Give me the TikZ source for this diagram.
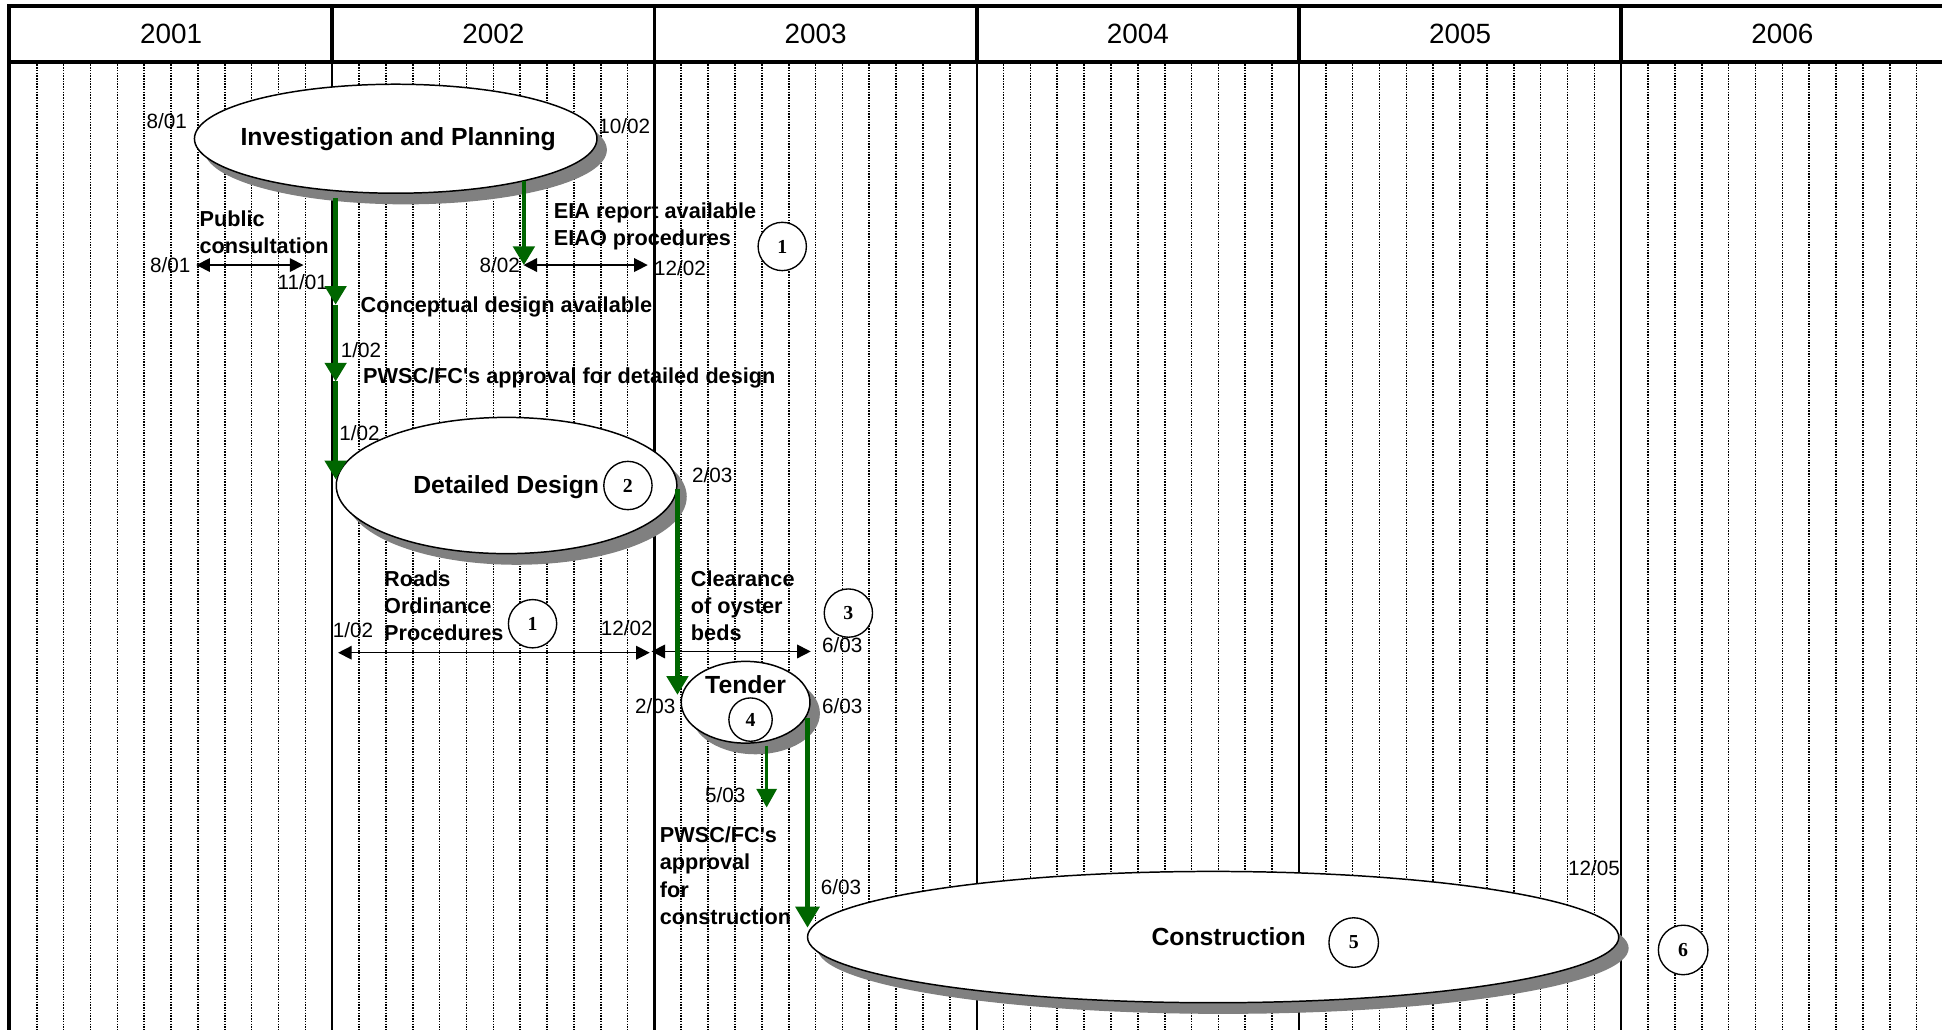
\documentclass[tikz,border=0pt]{standalone}
\usepackage{fontspec}
\setmainfont{Liberation Sans}
\newfontfamily\numfont{Liberation Serif}
\usetikzlibrary{arrows.meta,shapes.geometric,shadows}
\definecolor{grn}{RGB}{0,102,0}
\definecolor{shd}{RGB}{128,128,128}
\begin{document}
\begin{tikzpicture}[x=1pt,y=-1pt,
  yr/.style={font=\fontsize{22.5}{26}\selectfont, inner sep=0},
  dt/.style={font=\fontsize{16.7}{20}\selectfont, inner sep=0},
  lbl/.style={font=\fontsize{17.5}{22}\selectfont\bfseries, inner sep=0, align=left},
  big/.style={font=\fontsize{20}{24}\selectfont\bfseries, inner sep=0},
  num/.style={circle, draw, fill=white, line width=1.1pt, minimum size=39pt, inner sep=0, font=\numfont\fontsize{16}{18}\selectfont\bfseries},
  ell/.style={ellipse, draw, fill=white, line width=1.2pt, inner sep=0, drop shadow={shadow xshift=8pt, shadow yshift=-9pt, fill=shd, opacity=1}},
  garrow/.style={draw=grn, line width=3.5pt, -{Triangle[length=15pt,width=17pt]}},
  darrow/.style={draw=black, line width=1.2pt, {Triangle[length=11pt,width=11pt]}-{Triangle[length=11pt,width=11pt]}},
  dotl/.style={line width=1.3pt, dash pattern=on 1.2pt off 1pt},
]
\useasboundingbox (0,0) rectangle (1568,831);
% month grid
\foreach \k in {0,...,5}{
  \foreach \m in {1,...,11}{
    \draw[dotl] ({8+260.2*\k+21.683*\m},52) -- ++(0,785);
  }
}
% year separators
\foreach \k in {1,...,5}{
  \draw[line width=3pt] ({8+260.2*\k},4.8) -- ++(0,45.2);
  \draw[line width=1.8pt] ({8+260.2*\k},50) -- ++(0,785);
}
% frame
\draw[line width=3.2pt] (1575,4.8) -- (7.4,4.8) -- (7.4,840);
\draw[line width=3.2pt] (7.4,50) -- (1575,50);
% year labels
\foreach \y [count=\i from 0] in {2001,2002,2003,2004,2005,2006}{
  \node[yr] (y\y) at ({8+260.2*(\i+0.5)},27) {\y};
}
% phases
\node[ell, minimum width=325pt, minimum height=88pt] (inv) at (319.5,112) {};
\node[big] (invt) at (321.5,112.5) {Investigation and Planning};
\node[ell, minimum width=275pt, minimum height=110pt] (dd) at (409,392) {};
\node[big] (ddt) at (408.7,393) {Detailed Design};
\node[ell, minimum width=104pt, minimum height=66pt] (td) at (602,567) {};
\node[big] (tdt) at (602,553) {Tender};
\node[ell, minimum width=655pt, minimum height=106pt] (con) at (979.5,756.6) {};
\node[big] (cont) at (992,756) {Construction};
% numbered circles
\node[num] (n1a) at (631.6,199) {1};
\node[num] (n2) at (507,392) {2};
\node[num] (n1b) at (430,503.6) {1};
\node[num] (n3) at (685,495) {3};
\node[num, minimum size=35pt] (n4) at (606,581) {4};
\node[num, minimum size=40pt] (n5) at (1093,761) {5};
\node[num, minimum size=40pt] (n6) at (1359,767) {6};
% dates
\node[dt, anchor=east] (d801a) at (151,98) {8/01};
\node[dt, anchor=west] (d1002) at (483,102) {10/02};
\node[dt, anchor=east] (d801b) at (154,214) {8/01};
\node[dt, anchor=east] (d1101) at (265,228) {11/01};
\node[dt, anchor=east] (d802) at (420,214) {8/02};
\node[dt, anchor=west] (d1202a) at (528,216.5) {12/02};
\node[dt] (d102a) at (291.5,282.5) {1/02};
\node[dt] (d102b) at (290.3,349.8) {1/02};
\node[dt] (d203a) at (575,384) {2/03};
\node[dt] (d102c) at (285,508.5) {1/02};
\node[dt] (d1202b) at (506,507) {12/02};
\node[dt] (d603a) at (680,521) {6/03};
\node[dt] (d203b) at (529,570) {2/03};
\node[dt] (d603b) at (680,570) {6/03};
\node[dt] (d503) at (585.5,641.6) {5/03};
\node[dt] (d603c) at (679,716) {6/03};
\node[dt, anchor=east] (d1205) at (1308,701) {12/05};
% labels
\node[lbl, anchor=west] (pub) at (161,187.5) {Public\\consultation};
\node[lbl, anchor=west] (eia) at (447,182.5) {EIA report available\\EIAO procedures};
\node[lbl, anchor=west] (cda) at (291,247.5) {Conceptual design available};
\node[lbl, anchor=west] (pwdd) at (293,305.4) {PWSC/FC\textquotesingle s approval for detailed design};
\node[lbl, anchor=west] (rop) at (310,489) {Roads\\Ordinance\\Procedures};
\node[lbl, anchor=west] (cob) at (557.7,489) {Clearance\\of oyster\\beds};
\node[lbl, anchor=west] (pwc) at (532.6,707) {PWSC/FC\textquotesingle s\\approval\\for\\construction};
% double arrows
\coordinate (pa) at (158.5,214); \coordinate (pb) at (245,214);
\coordinate (ea) at (422.6,214); \coordinate (eb) at (523,214);
\coordinate (ra) at (273,527); \coordinate (rb) at (524.6,527);
\coordinate (ca) at (526,526); \coordinate (cb) at (654.6,526);
\draw[darrow] (pa) -- (pb);
\draw[darrow] (ea) -- (eb);
\draw[darrow] (ra) -- (rb);
\draw[darrow] (ca) -- (cb);
% green arrows
\coordinate (g1a) at (271,160);
\coordinate (g1b) at (271,246);
\coordinate (g1c) at (271,308);
\coordinate (g1d) at (271,387);
\draw[garrow] (g1a) -- (g1b);
\draw[garrow] (g1b) -- (g1c);
\draw[garrow] (g1c) -- (g1d);
\coordinate (g2a) at (423,146); \coordinate (g2b) at (423,214);
\draw[garrow] (g2a) -- (g2b);
\coordinate (g3a) at (547,395); \coordinate (g3b) at (547,561);
\draw[garrow] (g3a) -- (g3b);
\coordinate (g4a) at (619,602); \coordinate (g4b) at (619,652);
\draw[garrow, line width=2.8pt, -{Triangle[length=15pt,width=16pt]}] (g4a) -- (g4b);
\coordinate (g5a) at (652,579.5); \coordinate (g5b) at (652,749);
\draw[garrow, line width=3.8pt, -{Triangle[length=17pt,width=19pt]}] (g5a) -- (g5b);
\end{tikzpicture}
\end{document}
